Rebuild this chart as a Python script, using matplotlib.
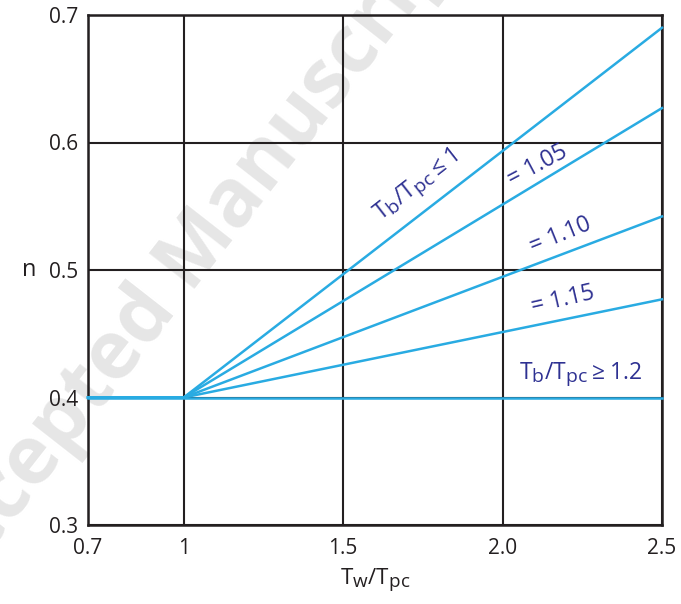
import matplotlib
matplotlib.use("Agg")
import matplotlib.pyplot as plt
import matplotlib._mathtext as _mt

_mt.SHRINK_FACTOR = 0.85

plt.rcParams['font.family'] = ['Open Sans', 'DejaVu Sans']
plt.rcParams['mathtext.fontset'] = 'custom'
plt.rcParams['mathtext.rm'] = 'Open Sans'
plt.rcParams['mathtext.it'] = 'Open Sans'

# data
x_pts = [0.7, 1.0, 2.5]
series_end = [0.69, 0.627, 0.542, 0.477, 0.40]
start_n = 0.40
x_ticks = [0.7, 1.0, 1.5, 2.0, 2.5]
x_tick_labels = ["0.7", "1", "1.5", "2.0", "2.5"]
y_ticks = [0.3, 0.4, 0.5, 0.6, 0.7]
y_tick_labels = ["0.3", "0.4", "0.5", "0.6", "0.7"]
labels = [r"$\mathregular{T_b/T_{pc} \leq 1}$", "= 1.05", "= 1.10", "= 1.15",
          r"$\mathregular{T_b/T_{pc} \geq 1.2}$"]
label_pos = [(1.732, 0.566), (2.111, 0.582), (2.183, 0.527), (2.19, 0.4766), (2.243, 0.418)]
label_rot = [38, 28, 22, 13, 0]

line_color = "#29abe2"
text_color = "#2e3192"
black = "#231f20"

fig = plt.figure(figsize=(6.81, 6.04), dpi=100)
ax = fig.add_axes([88/681, 1-525/604, (662-88)/681, (525-15)/604])
ax.patch.set_alpha(0)

# watermark
fig.text(195/681, 1-255/604, "Accepted Manuscript", rotation=52, color="#e6e6e6",
         fontsize=58, fontweight="bold", ha="center", va="center", zorder=-5)

ax.set_xlim(0.7, 2.5)
ax.set_ylim(0.3, 0.7)
ax.set_xticks(x_ticks)
ax.set_xticklabels(x_tick_labels)
ax.set_yticks(y_ticks)
ax.set_yticklabels(y_tick_labels)
ax.tick_params(length=0, labelsize=15, colors=black)
ax.tick_params(axis='x', pad=9)
ax.tick_params(axis='y', pad=7)
ax.grid(True, color=black, linewidth=1.5, zorder=1)
ax.set_axisbelow(True)
for s in ax.spines.values():
    s.set_color(black)
    s.set_linewidth(1.8)

for end in series_end:
    ax.plot(x_pts, [start_n, start_n, end], color=line_color, linewidth=1.8, zorder=3,
            clip_on=False)

for lab, (lx, ly), rot in zip(labels, label_pos, label_rot):
    ax.text(lx, ly, lab, color=text_color, fontsize=16.5, rotation=rot,
            ha="center", va="center", rotation_mode="anchor", zorder=4)

ax.set_xlabel(r"$\mathregular{T_w/T_{pc}}$", fontsize=16, color=black, labelpad=6)
ax.set_ylabel("n", fontsize=17, color=black, rotation=0, labelpad=14, va="center")

fig.savefig("out.png", dpi=100)
